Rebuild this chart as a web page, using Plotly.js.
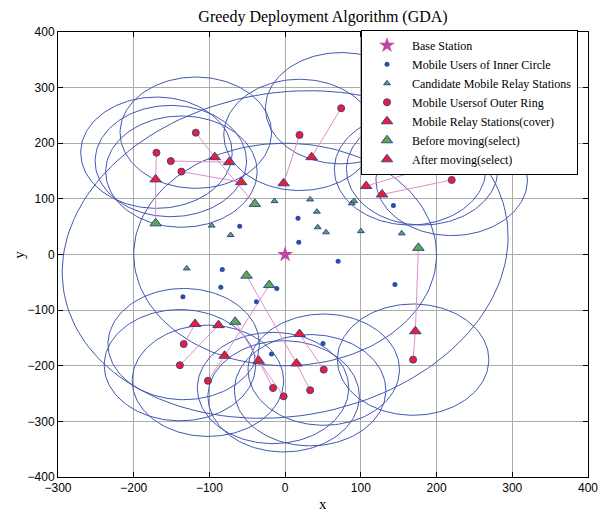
<!DOCTYPE html>
<html><head><meta charset="utf-8">
<script src="https://cdn.plot.ly/plotly-3.0.1.min.js"></script>
<style>html,body{margin:0;padding:0;background:#fff}#chart{width:609px;height:513px}</style>
</head><body><div id="chart"></div>
<script>
// ---- data ----
const baseX = [0], baseY = [0];
const innerX = [17, 18, -60, 70, 143, 145, -83, -85, -135, -38, -11, 50, -18];
const innerY = [65, 22, 51, -12, 88, -54, -27, -59, -76, -85, -61, -160, -179];
const candX = [-14, 33, 42, 43, 54, 88, 91, 100, 154, -97, -72, -130];
const candY = [96, 99, 77, 49, 40, 92, 96, 42, 38, 52, 35, -25];
const outerX = [-170, -151, -137, -118, 19, 74, 165, 181, 220, 169, -134, -139, -102, -16, -2, 33, 51];
const outerY = [183, 168, 149, 219, 215, 263, 153, 153, 134, -189, -161, -199, -227, -240, -255, -244, -207];
const coverX = [-74, -58, -2, 35, 121, 107, 128, -119, -88, 19];
const coverY = [166, 130, 128, 175, 152, 123, 108, -125, -127, -143];
const coverUsers = [[1], [2], [4], [5], [6], [7], [8], [10], [11], [16]];
const beforeX = [-171, -40, 176, -51, -21, -66];
const beforeY = [56, 91, 12, -38, -55, -121];
const afterX = [-171, -93, 172, 15, -80, -35];
const afterY = [135, 175, -138, -196, -182, -191];
const afterUsers = [[0], [3], [9], [15], [12], [13, 14]];
const userRadius = 100;
const innerRadius = 200;
const ringA = 310, ringB = 278, ringAngleDeg = 45;
const xTicks = [-300, -200, -100, 0, 100, 200, 300, 400];
const yTicks = [-400, -300, -200, -100, 0, 100, 200, 300, 400];

// ---- geometry helpers ----
const N = 160;
function circlePts(cx, cy, r, xs, ys) {
  for (let i = 0; i <= N; i++) {
    const t = 2 * Math.PI * i / N;
    xs.push(cx + r * Math.cos(t)); ys.push(cy + r * Math.sin(t));
  }
  xs.push(null); ys.push(null);
}
const cX = [], cY = [];
for (let i = 0; i < outerX.length; i++) circlePts(outerX[i], outerY[i], userRadius, cX, cY);
circlePts(baseX[0], baseY[0], innerRadius, cX, cY);
const th = ringAngleDeg * Math.PI / 180;
for (let i = 0; i <= N; i++) {
  const t = 2 * Math.PI * i / N;
  const u = ringA * Math.cos(t), v = ringB * Math.sin(t);
  cX.push(baseX[0] + u * Math.cos(th) - v * Math.sin(th));
  cY.push(baseY[0] + u * Math.sin(th) + v * Math.cos(th));
}

const lX = [], lY = [];
function seg(x1, y1, x2, y2) { lX.push(x1, x2, null); lY.push(y1, y2, null); }
coverUsers.forEach((us, k) => us.forEach(u => seg(coverX[k], coverY[k], outerX[u], outerY[u])));
afterUsers.forEach((us, k) => us.forEach(u => seg(afterX[k], afterY[k], outerX[u], outerY[u])));
beforeX.forEach((_, k) => seg(beforeX[k], beforeY[k], afterX[k], afterY[k]));

const edge = '#3a40a0';
const traces = [
  {x: cX, y: cY, mode: 'lines', line: {color: '#4058b0', width: 1}, showlegend: false, hoverinfo: 'skip'},
  {x: lX, y: lY, mode: 'lines', line: {color: '#dc90cc', width: 1}, showlegend: false, hoverinfo: 'skip'},
  {x: baseX, y: baseY, mode: 'markers', name: 'Base Station', marker: {symbol: 'star', size: 12, color: '#c444a2'}},
  {x: innerX, y: innerY, mode: 'markers', name: 'Mobile Users of Inner Circle', marker: {symbol: 'circle', size: 5, color: '#2c4ea6'}},
  {x: candX, y: candY, mode: 'markers', name: 'Candidate Mobile Relay Stations', marker: {symbol: 'triangle-up', size: 6, color: '#5bab45', line: {color: edge, width: 1}}},
  {x: outerX, y: outerY, mode: 'markers', name: 'Mobile Usersof Outer Ring', marker: {symbol: 'circle', size: 7, color: '#ee1d28', line: {color: edge, width: 1}}},
  {x: coverX, y: coverY, mode: 'markers', name: 'Mobile Relay Stations(cover)', marker: {symbol: 'triangle-up', size: 10, color: '#ee1d28', line: {color: edge, width: 1}}},
  {x: beforeX, y: beforeY, mode: 'markers', name: 'Before moving(select)', marker: {symbol: 'triangle-up', size: 10, color: '#5bab45', line: {color: edge, width: 1}}},
  {x: afterX, y: afterY, mode: 'markers', name: 'After moving(select)', marker: {symbol: 'triangle-up', size: 10, color: '#ee1d28', line: {color: edge, width: 1}}}
];

const axisCommon = {
  ticks: 'inside', ticklen: 5, tickcolor: '#000', mirror: 'ticks', showline: true,
  linecolor: '#000', linewidth: 1, showgrid: true, gridcolor: '#ababab', gridwidth: 1,
  zeroline: false, tickfont: {family: 'Liberation Sans, Arial, sans-serif', size: 12, color: '#000'},
  fixedrange: true
};
const layout = {
  width: 609, height: 513,
  margin: {l: 58, r: 21, t: 32, b: 36},
  paper_bgcolor: '#fff', plot_bgcolor: '#fff',
  title: {text: 'Greedy Deployment Algorithm (GDA)', font: {family: 'Liberation Serif, Times New Roman, serif', size: 16, color: '#000'},
          x: 0.5, xref: 'paper', y: 0.969, yref: 'container', yanchor: 'middle'},
  xaxis: Object.assign({}, axisCommon, {range: [-300, 400], tickvals: xTicks}),
  yaxis: Object.assign({}, axisCommon, {range: [-400, 400], tickvals: yTicks}),
  showlegend: true,
  legend: {x: 0.5717, y: 1.005, xanchor: 'left', yanchor: 'top', bgcolor: '#fff', bordercolor: '#000', borderwidth: 1,
           itemwidth: 40,
           font: {family: 'Liberation Serif, Times New Roman, serif', size: 12, color: '#000'}, tracegroupgap: 0},
  annotations: [
    {text: 'x', xref: 'paper', yref: 'paper', x: 0.5, y: -0.061, xanchor: 'center', yanchor: 'middle', showarrow: false,
     font: {family: 'Liberation Serif, Times New Roman, serif', size: 15, color: '#000'}},
    {text: 'y', xref: 'paper', yref: 'paper', x: -0.075, y: 0.5, xanchor: 'center', yanchor: 'middle', showarrow: false, textangle: -90,
     font: {family: 'Liberation Serif, Times New Roman, serif', size: 15, color: '#000'}}
  ],
  hovermode: false
};
Plotly.newPlot('chart', traces, layout, {displayModeBar: false, staticPlot: true});
</script></body></html>
